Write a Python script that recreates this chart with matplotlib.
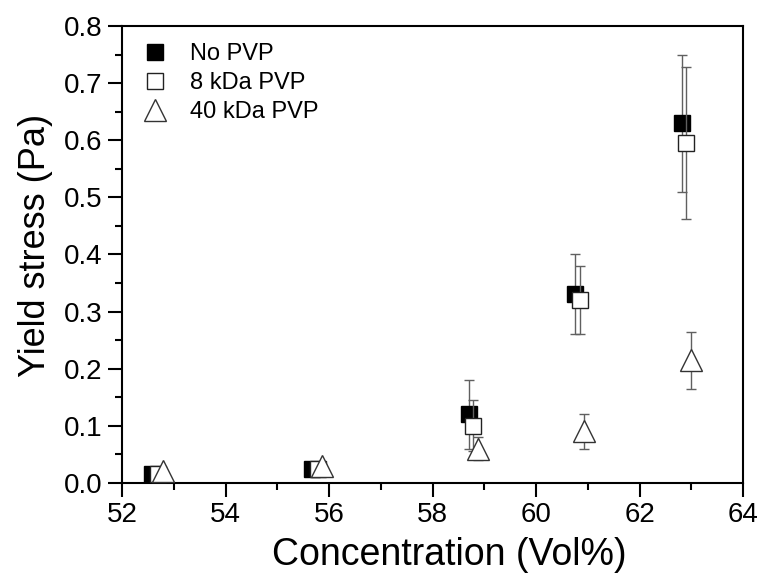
import numpy as np
import matplotlib.pyplot as plt
from matplotlib.ticker import MultipleLocator, FormatStrFormatter

plt.rcParams['font.family'] = ['Liberation Sans', 'DejaVu Sans']

# datos
conc_no = [52.58, 55.67, 58.70, 60.75, 62.82]
ys_no = [0.015, 0.024, 0.12, 0.33, 0.63]
err_no = [0.0, 0.0, 0.06, 0.07, 0.12]

conc_8k = [52.70, 55.78, 58.78, 60.85, 62.90]
ys_8k = [0.016, 0.025, 0.10, 0.32, 0.596]
err_8k = [0.005, 0.0, 0.045, 0.06, 0.133]

conc_40k = [52.80, 55.87, 58.88, 60.92, 63.00]
ys_40k = [0.02, 0.03, 0.06, 0.09, 0.215]
err_40k = [0.0, 0.0, 0.02, 0.03, 0.05]

fig = plt.figure(figsize=(7.63, 5.81), dpi=100)
ax = fig.add_axes([0.160, 0.169, 0.814, 0.786])

ecol = '#606060'
ax.errorbar(conc_no, ys_no, yerr=err_no, fmt='s', ms=12, mfc='black', mec='black',
            ecolor=ecol, elinewidth=1, capsize=3.5, capthick=1, label='No PVP', zorder=3)
ax.errorbar(conc_8k, ys_8k, yerr=err_8k, fmt='s', ms=12, mfc='white', mec='#222222', mew=1,
            ecolor=ecol, elinewidth=1, capsize=3.5, capthick=1, label='8 kDa PVP', zorder=4)
ax.errorbar(conc_40k, ys_40k, yerr=err_40k, fmt='^', ms=16, mfc='white', mec='#333333', mew=1,
            ecolor=ecol, elinewidth=1, capsize=3.5, capthick=1, label='40 kDa PVP', zorder=5)

ax.set_xlim(52, 64)
ax.set_ylim(0, 0.8)
ax.xaxis.set_major_locator(MultipleLocator(2))
ax.xaxis.set_minor_locator(MultipleLocator(1))
ax.yaxis.set_major_locator(MultipleLocator(0.1))
ax.yaxis.set_minor_locator(MultipleLocator(0.05))
ax.yaxis.set_major_formatter(FormatStrFormatter('%.1f'))
ax.tick_params(which='major', direction='out', length=10, width=1.5, labelsize=20, pad=4)
ax.tick_params(which='minor', direction='out', length=5, width=1.5)
for s in ax.spines.values():
    s.set_linewidth(1.5)

ax.set_xlabel('Concentration (Vol%)', fontsize=27, x=0.527, labelpad=6)
ax.set_ylabel('Yield stress (Pa)', fontsize=26, y=0.52, labelpad=8)

handles, labels = ax.get_legend_handles_labels()
handles = [h[0] for h in handles]
leg = ax.legend(handles, labels, loc='upper left', bbox_to_anchor=(0.034, 0.963),
                frameon=False, fontsize=17, markerscale=1.0, handletextpad=1.0,
                labelspacing=0.3, borderaxespad=0, borderpad=0, handlelength=1.0)

fig.savefig('out.png', dpi=100)
